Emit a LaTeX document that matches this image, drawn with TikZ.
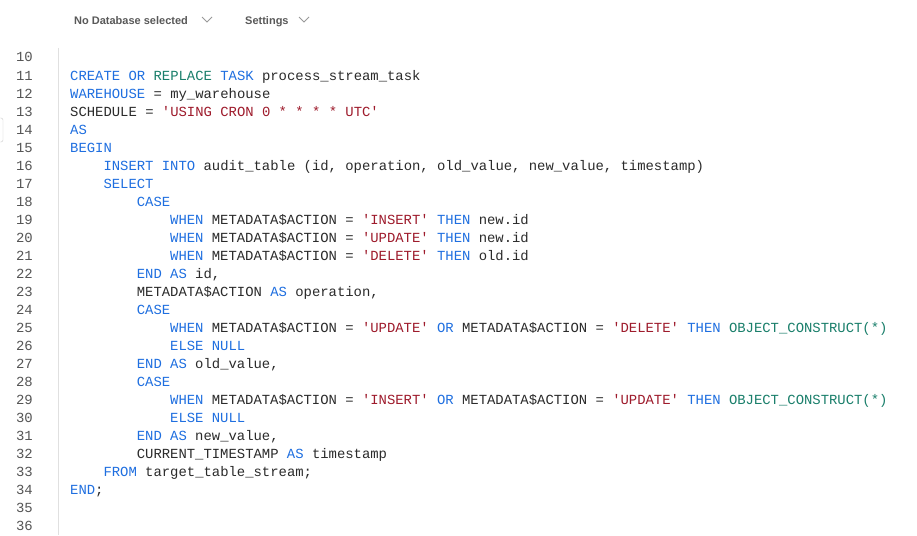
\documentclass[tikz,border=0pt]{standalone}
\usepackage{fontspec}
\newfontfamily\code{Liberation Mono}[Scale=1]
\newfontfamily\ui{Liberation Sans}
\definecolor{kw}{HTML}{1F6FE0}
\definecolor{fn}{HTML}{1A7F6B}
\definecolor{st}{HTML}{9E1B2C}
\definecolor{tx}{HTML}{2B2B2B}
\definecolor{ln}{HTML}{555555}
\newcommand\kw[1]{\textcolor{kw}{#1}}
\newcommand\fn[1]{\textcolor{fn}{#1}}
\newcommand\st[1]{\textcolor{st}{#1}}
\newcommand\qq{\textquotesingle}
\tikzset{codeline/.style={anchor=base west,inner sep=0pt,font=\code\fontsize{13.9}{16}\selectfont,text=tx},
 lnum/.style={anchor=base east,inner sep=0pt,font=\code\fontsize{13.9}{16}\selectfont,text=ln},
 hdr/.style={anchor=base west,inner sep=0pt,font=\ui\bfseries\fontsize{11}{13}\selectfont,text=black!65},
 chev/.style={draw=black!40,line width=0.9pt}}
\begin{document}
\begin{tikzpicture}[x=1pt,y=-1pt]
\useasboundingbox[fill=white] (0,0) rectangle (917,535);
\node[hdr] (h1) at (74,25) {No Database selected};
\draw[chev] (202,17) -- (207,22) -- (212,17);
\node[hdr] (h2) at (245,25) {Settings};
\draw[chev] (299,17) -- (304,22) -- (309,17);
\draw[black!12] (58,48) -- (58,535);
\draw[black!20,rounded corners=2pt] (0,118) -- (3,118) -- (3,142) -- (0,142);
\foreach \n in {10,...,36}{\node[lnum] (n\n) at (33,{62+18*(\n-10)}) {\n};}
\def\L#1#2#3{\node[codeline] (c#1) at ({70+8.33*#2},{62+18*(#1-10)}) {#3};}
\L{11}{0}{\kw{CREATE OR} \fn{REPLACE} \kw{TASK} process\_stream\_task}
\L{12}{0}{\kw{WAREHOUSE} = my\_warehouse}
\L{13}{0}{SCHEDULE = \st{\qq USING CRON 0 * * * * UTC\qq}}
\L{14}{0}{\kw{AS}}
\L{15}{0}{\kw{BEGIN}}
\L{16}{4}{\kw{INSERT INTO} audit\_table (id, operation, old\_value, new\_value, timestamp)}
\L{17}{4}{\kw{SELECT}}
\L{18}{8}{\kw{CASE}}
\L{19}{12}{\kw{WHEN} METADATA\$ACTION = \st{\qq INSERT\qq} \kw{THEN} new.id}
\L{20}{12}{\kw{WHEN} METADATA\$ACTION = \st{\qq UPDATE\qq} \kw{THEN} new.id}
\L{21}{12}{\kw{WHEN} METADATA\$ACTION = \st{\qq DELETE\qq} \kw{THEN} old.id}
\L{22}{8}{\kw{END AS} id,}
\L{23}{8}{METADATA\$ACTION \kw{AS} operation,}
\L{24}{8}{\kw{CASE}}
\L{25}{12}{\kw{WHEN} METADATA\$ACTION = \st{\qq UPDATE\qq} \kw{OR} METADATA\$ACTION = \st{\qq DELETE\qq} \kw{THEN} \fn{OBJECT\_CONSTRUCT(*)}}
\L{26}{12}{\kw{ELSE NULL}}
\L{27}{8}{\kw{END AS} old\_value,}
\L{28}{8}{\kw{CASE}}
\L{29}{12}{\kw{WHEN} METADATA\$ACTION = \st{\qq INSERT\qq} \kw{OR} METADATA\$ACTION = \st{\qq UPDATE\qq} \kw{THEN} \fn{OBJECT\_CONSTRUCT(*)}}
\L{30}{12}{\kw{ELSE NULL}}
\L{31}{8}{\kw{END AS} new\_value,}
\L{32}{8}{CURRENT\_TIMESTAMP \kw{AS} timestamp}
\L{33}{4}{\kw{FROM} target\_table\_stream;}
\L{34}{0}{\kw{END};}
\end{tikzpicture}
\end{document}
